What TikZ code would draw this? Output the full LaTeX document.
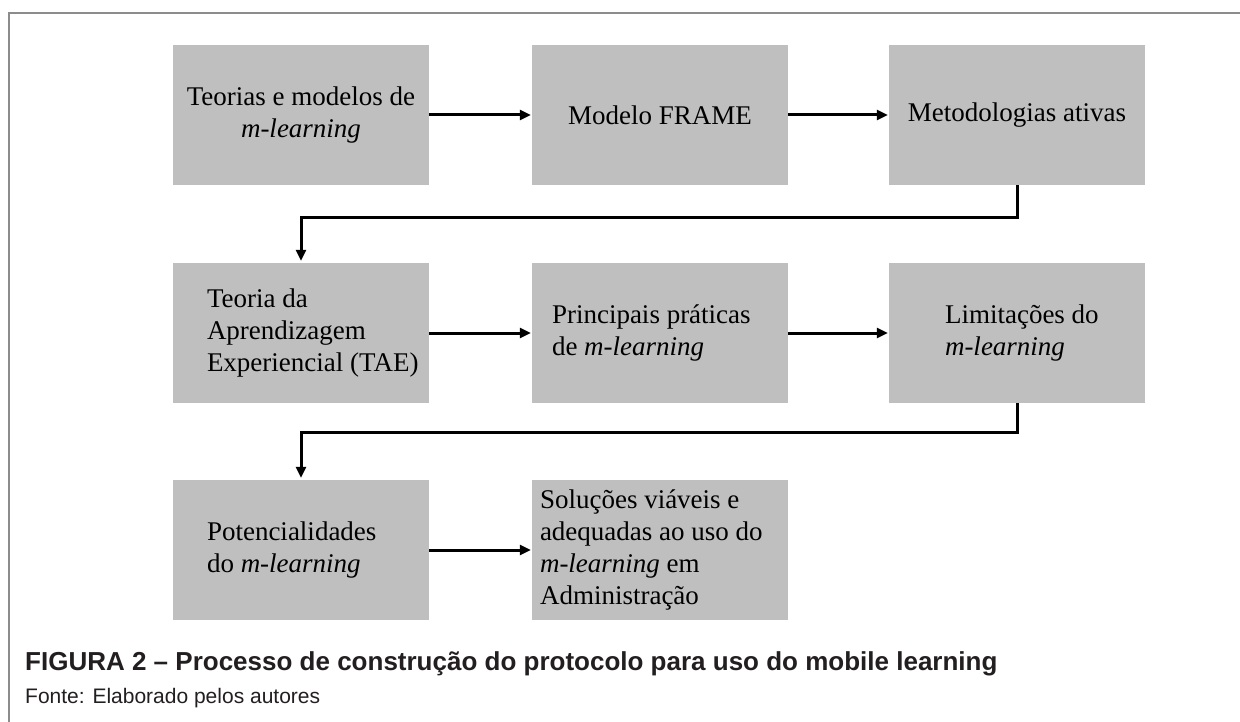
\documentclass[tikz,border=0pt]{standalone}
\usepackage{fontspec}
\setmainfont{Liberation Serif}
\setsansfont{Liberation Sans}
\usetikzlibrary{arrows.meta,calc}
\definecolor{boxgray}{RGB}{191,191,191}
\definecolor{framegray}{RGB}{140,140,140}
\definecolor{captext}{RGB}{35,31,32}
\tikzset{
  gbox/.style={fill=boxgray, draw=none, minimum width=256pt, minimum height=140pt, inner sep=0pt},
  txt/.style={font=\fontsize{27}{32}\selectfont, inner sep=0pt, align=left, text=black},
  ctxt/.style={txt, align=center},
  conn/.style={line width=3pt, -{Triangle[length=11pt,width=10pt]}, shorten >=1pt},
  elbow/.style={conn, shorten >=2pt}
}
\begin{document}
\begin{tikzpicture}[x=1pt,y=-1pt]
\useasboundingbox (0,0) rectangle (1240,722);
\fill[white] (0,0) rectangle (1240,722);
% frame
\draw[framegray, line width=1.5pt] (9,722) -- (9,13) -- (1240,13);

% boxes
\node[gbox] (b1) at (301,115) {};
\node[gbox] (b2) at (660,115) {};
\node[gbox] (b3) at (1017,115) {};
\node[gbox] (b4) at (301,333) {};
\node[gbox] (b5) at (660,333) {};
\node[gbox] (b6) at (1017,333) {};
\node[gbox] (b7) at (301,550) {};
\node[gbox] (b8) at (660,550) {};

% texts
\node[ctxt] (t1) at (b1.center) {Teorias e modelos de\\\textit{m-learning}};
\node[ctxt] (t2) at (b2.center) {Modelo FRAME};
\node[ctxt] (t3) at (b3.center) {Metodologias ativas};
\node[txt, anchor=west] (t4) at ([xshift=34pt]b4.west) {Teoria da\\Aprendizagem\\Experiencial (TAE)};
\node[txt, anchor=west] (t5) at ([xshift=20pt]b5.west) {Principais práticas\\de \textit{m-learning}};
\node[txt, anchor=west] (t6) at ([xshift=56pt]b6.west) {Limitações do\\\textit{m-learning}};
\node[txt, anchor=west] (t7) at ([xshift=34pt]b7.west) {Potencialidades\\do \textit{m-learning}};
\node[txt, anchor=west] (t8) at ([xshift=8pt]b8.west) {Soluções viáveis e\\adequadas ao uso do\\\textit{m-learning} em\\Administração};

% connectors
\draw[conn] (b1.east) -- (b2.west);
\draw[conn] (b2.east) -- (b3.west);
\draw[elbow] (b3.south) -- ++(0,32) -| (b4.north);
\draw[conn] (b4.east) -- (b5.west);
\draw[conn] (b5.east) -- (b6.west);
\draw[elbow] (b6.south) -- ++(0,29) -| (b7.north);
\draw[conn] (b7.east) -- (b8.west);

% caption
\node[anchor=base west, inner sep=0pt, text=captext, font=\sffamily\bfseries\fontsize{26}{30}\selectfont] (cap) at (25,670) {FIGURA 2 – Processo de construção do protocolo para uso do mobile learning};
\node[anchor=base west, inner sep=0pt, text=captext, font=\sffamily\fontsize{21}{25}\selectfont] (src) at (25,703) {Fonte: Elaborado pelos autores};
\end{tikzpicture}
\end{document}
